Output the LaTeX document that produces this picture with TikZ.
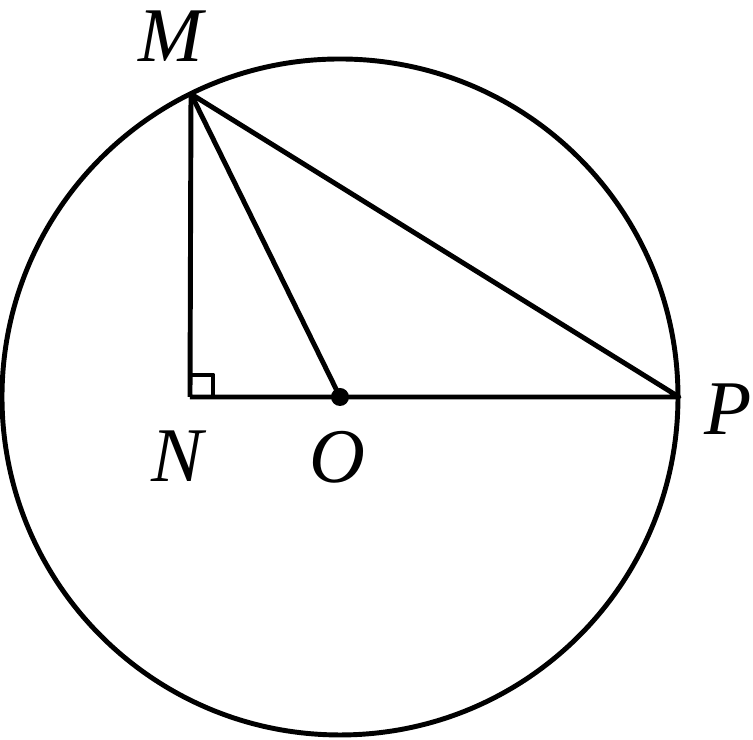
\documentclass[tikz,border=0pt]{standalone}
\usepackage{fontspec}
\newfontfamily\lblfont{Liberation Serif Italic}

\begin{document}
\begin{tikzpicture}[x=0.01cm,y=0.01cm,line width=1.4pt,line join=round,
  lbl/.style={font=\fontsize{22}{24}\lblfont,inner sep=0pt}]
\useasboundingbox (0,0) rectangle (753,740);
\coordinate (O) at (340,343);
\coordinate (M) at (191,646);
\coordinate (N) at (190,343);
\coordinate (P) at (679,343);
\draw (O) circle[radius=338];
\draw (N) -- (M) -- (P) -- (N);
\draw (M) -- (O);
\draw (N) ++(0,22) -- ++(23,0) -- ++(0,-22);
\fill (O) circle[radius=9];
\node[lbl] (lM) at (171,704) {M};
\node[lbl] (lN) at (177,284) {N};
\node[lbl] (lO) at (337,283) {O};
\node[lbl] (lP) at (728,331) {P};
\end{tikzpicture}
\end{document}
